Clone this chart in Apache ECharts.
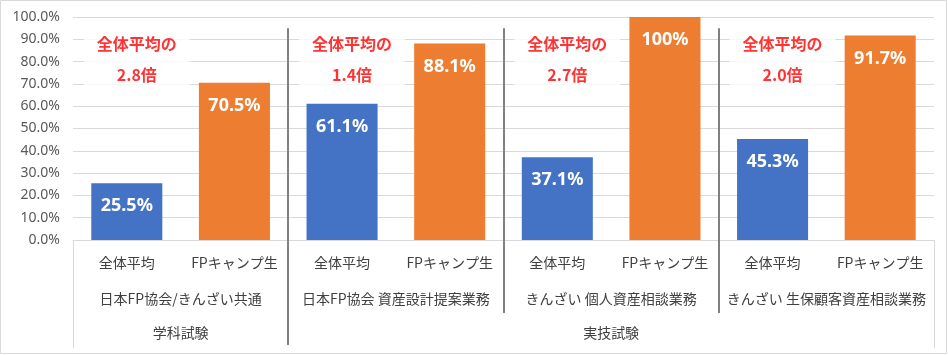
<!DOCTYPE html>
<html>
<head>
<meta charset="utf-8">
<script src="https://cdn.jsdelivr.net/npm/echarts@6/dist/echarts.min.js"></script>
<style>
html,body{margin:0;padding:0;background:#fff;}
#chart{width:948px;height:355px;}
</style>
</head>
<body>
<div id="chart"></div>
<script>
// ---- data ----
const categories = ['全体平均','FPキャンプ生','全体平均','FPキャンプ生','全体平均','FPキャンプ生','全体平均','FPキャンプ生'];
const groupLabels = ['日本FP協会/きんざい共通','日本FP協会 資産設計提案業務','きんざい 個人資産相談業務','きんざい 生保顧客資産相談業務'];
const examLabels = ['学科試験','','実技試験',''];
const averageValues = [25.5, 61.1, 37.1, 45.3];
const campValues = [70.5, 88.1, 100, 91.7];
const valueLabels = ['25.5%','70.5%','61.1%','88.1%','37.1%','100%','45.3%','91.7%'];
const ratioLabels = ['2.8倍','1.4倍','2.7倍','2.0倍'];
const annotationPrefix = '全体平均の';

const BLUE = '#4472C4', ORANGE = '#ED7D31';
const cjk = '"Noto Sans CJK JP", "Noto Sans", sans-serif';

const barData = [];
for (let i = 0; i < averageValues.length; i++) {
  barData.push({ value: averageValues[i], itemStyle: { color: BLUE } });
  barData.push({ value: campValues[i], itemStyle: { color: ORANGE } });
}
const annoData = averageValues.map((v, i) => [i * 2, 81]);

const chart = echarts.init(document.getElementById('chart'), null, { renderer: 'canvas' });
const option = {
  animation: false,
  backgroundColor: '#fff',
  grid: { left: 73, right: 14, top: 17, bottom: 115 },
  xAxis: [
    {
      type: 'category', data: categories, position: 'bottom',
      axisLine: { show: true, lineStyle: { color: '#d9d9d9', width: 1 } },
      axisTick: { show: false },
      axisLabel: { interval: 0, margin: 16, fontSize: 14, color: '#404040', fontFamily: cjk }
    },
    {
      type: 'category', data: groupLabels, position: 'bottom',
      axisLine: { show: false }, axisTick: { show: false },
      axisLabel: { interval: 0, margin: 52, fontSize: 14, color: '#404040', fontFamily: cjk }
    },
    {
      type: 'category', data: examLabels, position: 'bottom',
      axisLine: { show: false }, axisTick: { show: false },
      axisLabel: { interval: 0, margin: 86, fontSize: 14, color: '#404040', fontFamily: cjk }
    }
  ],
  yAxis: {
    type: 'value', min: 0, max: 100, interval: 10,
    axisLine: { show: false }, axisTick: { show: false },
    splitLine: { lineStyle: { color: '#d9d9d9', width: 1 } },
    axisLabel: { formatter: v => v.toFixed(1) + '%', fontSize: 14, color: '#595959', margin: 13, fontFamily: '"Noto Sans", sans-serif' }
  },
  series: [
    {
      type: 'bar', xAxisIndex: 0, data: barData, barWidth: '66%',
      label: {
        show: true, position: 'insideTop', distance: 14,
        formatter: p => valueLabels[p.dataIndex],
        color: '#fff', fontWeight: 'bold', fontSize: 18, fontFamily: '"Noto Sans", sans-serif'
      }
    },
    {
      type: 'scatter', xAxisIndex: 0, data: annoData, symbolSize: 0, z: 3,
      label: {
        show: true, position: 'inside', offset: [10, 0],
        formatter: p => annotationPrefix + '\n' + ratioLabels[p.dataIndex],
        color: '#ff0000', fontWeight: 'bold', fontSize: 16, lineHeight: 31,
        fontFamily: cjk, backgroundColor: '#fff', width: 106, padding: [1, 0, 1, 0], align: 'center'
      }
    }
  ]
};
chart.setOption(option);

// separators and label box computed through the axes
const px = i => chart.convertToPixel({ xAxisIndex: 0 }, i);
const py = v => chart.convertToPixel({ yAxisIndex: 0 }, v);
const step = px(1) - px(0);
const yTopSep = py(95);
const yAxisLine = py(0);
const lines = [];
const leftEdge = px(0) - step / 2, rightEdge = px(7) + step / 2;
lines.push({ type: 'line', shape: { x1: Math.round(leftEdge) + 0.5, y1: yAxisLine, x2: Math.round(leftEdge) + 0.5, y2: yAxisLine + 108 }, style: { stroke: '#d9d9d9', lineWidth: 1 } });
lines.push({ type: 'line', shape: { x1: Math.round(rightEdge) + 0.5, y1: yAxisLine, x2: Math.round(rightEdge) + 0.5, y2: yAxisLine + 108 }, style: { stroke: '#d9d9d9', lineWidth: 1 } });
[1, 3, 5].forEach((i, k) => {
  const xb = Math.round((px(i) + px(i + 1)) / 2);
  lines.push({ type: 'line', z: 10, shape: { x1: xb, y1: yTopSep, x2: xb, y2: yAxisLine + (k === 0 ? 105 : 73) }, style: { stroke: '#808080', lineWidth: 2 } });
});
lines.push({ type: 'rect', shape: { x: 0.5, y: 0.5, width: 946, height: 353 }, style: { fill: 'none', stroke: '#d9d9d9', lineWidth: 1 } });
chart.setOption({ graphic: lines });
</script>
</body>
</html>
